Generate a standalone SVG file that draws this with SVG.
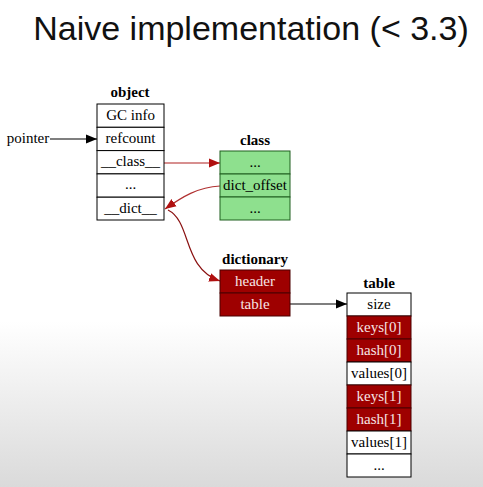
<svg xmlns="http://www.w3.org/2000/svg" width="483" height="487" viewBox="0 0 483 487">
<defs>
<linearGradient id="bg" x1="0" y1="0" x2="0" y2="1">
<stop offset="0" stop-color="#ffffff"/>
<stop offset="0.66" stop-color="#ffffff"/>
<stop offset="1" stop-color="#dadada"/>
</linearGradient>
<marker id="ab" viewBox="0 0 10 10" refX="10" refY="5" markerWidth="11" markerHeight="11" markerUnits="userSpaceOnUse" orient="auto">
<path d="M0,1 L10,5 L0,9 z" fill="#000"/>
</marker>
<marker id="ar" viewBox="0 0 10 10" refX="10" refY="5" markerWidth="11" markerHeight="11" markerUnits="userSpaceOnUse" orient="auto">
<path d="M0,1 L10,5 L0,9 z" fill="#b01010"/>
</marker>
</defs>
<style>
text{font-family:"Liberation Serif","Times New Roman",Times,serif}
.t{font-size:15px;text-anchor:middle}
.h{font-size:15px;font-weight:bold;text-anchor:middle}
.w{fill:#ffffff;stroke:#000;stroke-width:1}
.g{fill:#8ee08e;stroke:#1f5f1f;stroke-width:1}
.r{fill:#9e0000;stroke:#4a0000;stroke-width:1}
.rt{fill:#f6e4e4}
.e{fill:none;stroke-width:1.2}
</style>
<rect width="483" height="487" fill="url(#bg)"/>
<text x="251" y="40" style="font-family:'Liberation Sans',Arial,sans-serif" font-size="34" text-anchor="middle" fill="#111">Naive implementation (&lt; 3.3)</text>

<g id="connectors">
<text class="t" x="28" y="143">pointer</text>
<path class="e" d="M50,139 L97,139" stroke="#000" marker-end="url(#ab)"/>
<path class="e" d="M164,163 L220,163" stroke="#b02020" marker-end="url(#ar)"/>
<path class="e" d="M220,186 C198,187 182,197 165,209" stroke="#b03030" marker-end="url(#ar)"/>
<path class="e" d="M168,210 C192,222 182,268 220,281" stroke="#8a1010" marker-end="url(#ar)"/>
<path class="e" d="M290,304 L347,304" stroke="#000" marker-end="url(#ab)"/>
</g>

<g id="object">
<text class="h" x="130" y="97">object</text>
<rect class="w" x="97" y="104" width="67" height="23.3"/>
<rect class="w" x="97" y="127.3" width="67" height="23.3"/>
<rect class="w" x="97" y="150.6" width="67" height="23.3"/>
<rect class="w" x="97" y="173.9" width="67" height="23.3"/>
<rect class="w" x="97" y="197.2" width="67" height="22.8"/>
<text class="t" x="130.5" y="120">GC info</text>
<text class="t" x="130.5" y="143">refcount</text>
<text class="t" x="130.5" y="166">__class__</text>
<text class="t" x="130.5" y="189">...</text>
<text class="t" x="130.5" y="213">__dict__</text>
</g>

<g id="class">
<text class="h" x="255" y="145">class</text>
<rect class="g" x="220" y="151" width="70" height="23"/>
<rect class="g" x="220" y="174" width="70" height="23"/>
<rect class="g" x="220" y="197" width="70" height="23"/>
<text class="t" x="255" y="167">...</text>
<text class="t" x="255" y="190">dict_offset</text>
<text class="t" x="255" y="213">...</text>
</g>

<g id="dictionary">
<text class="h" x="255" y="264">dictionary</text>
<rect class="r" x="220" y="270" width="70" height="23"/>
<rect class="r" x="220" y="293" width="70" height="23"/>
<text class="t rt" x="255" y="286">header</text>
<text class="t rt" x="255" y="309">table</text>
</g>

<g id="table">
<text class="h" x="379" y="288">table</text>
<rect class="w" x="347" y="293" width="64" height="23"/>
<rect class="r" x="347" y="316" width="64" height="23"/>
<rect class="r" x="347" y="339" width="64" height="23"/>
<rect class="w" x="347" y="362" width="64" height="23"/>
<rect class="r" x="347" y="385" width="64" height="23"/>
<rect class="r" x="347" y="408" width="64" height="23"/>
<rect class="w" x="347" y="431" width="64" height="23"/>
<rect class="w" x="347" y="454" width="64" height="23"/>
<text class="t" x="379" y="309">size</text>
<text class="t rt" x="379" y="332">keys[0]</text>
<text class="t rt" x="379" y="355">hash[0]</text>
<text class="t" x="379" y="378">values[0]</text>
<text class="t rt" x="379" y="401">keys[1]</text>
<text class="t rt" x="379" y="424">hash[1]</text>
<text class="t" x="379" y="447">values[1]</text>
<text class="t" x="379" y="470">...</text>
</g>
</svg>
